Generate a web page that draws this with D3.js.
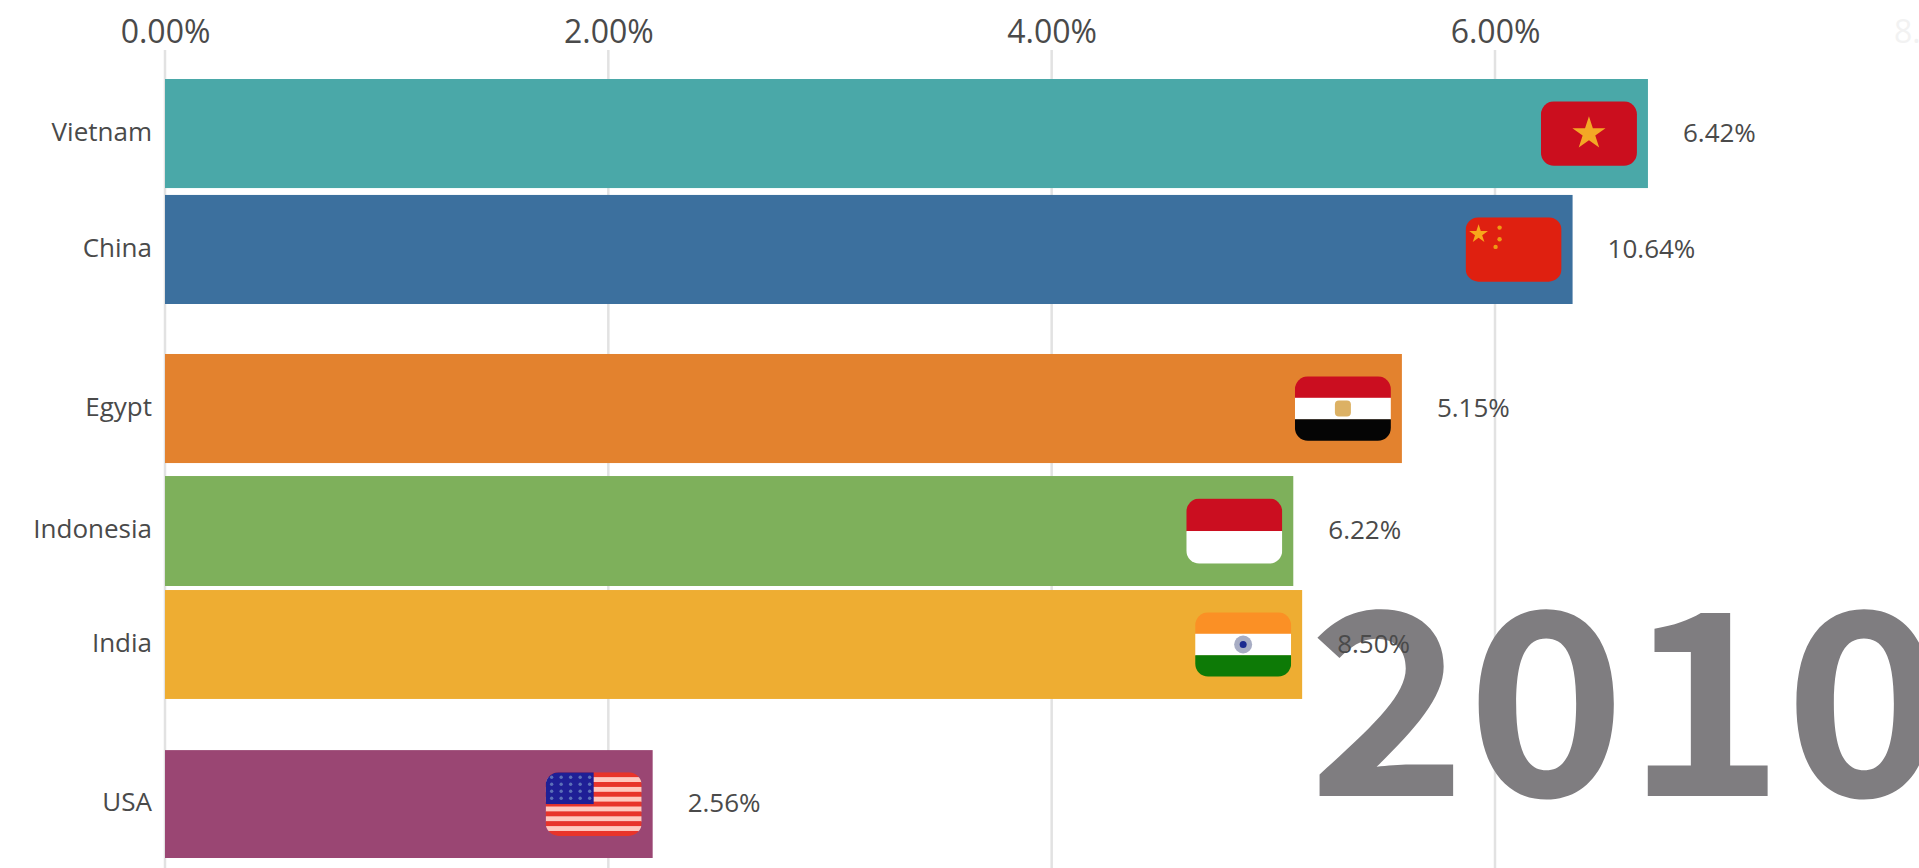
<!DOCTYPE html>
<html>
<head>
<meta charset="utf-8">
<script src="https://cdn.jsdelivr.net/npm/d3@7/dist/d3.min.js"></script>
<style>
html,body{margin:0;padding:0;background:#fff;overflow:hidden}
svg{display:block}
</style>
</head>
<body>
<svg id="chart" width="1919" height="868"></svg>
<script>
// Data (frame of a bar-chart race, so ranks are mid-transition)
const countries = ["Vietnam", "China", "Egypt", "Indonesia", "India", "USA"];
const barValues = [6.69, 6.35, 5.58, 5.09, 5.13, 2.20];
const valueLabels = ["6.42%", "10.64%", "5.15%", "6.22%", "8.50%", "2.56%"];
const rankStart = [0, 0.893, 2.118, 3.058, 3.936, 5.169];
const rankEnd = [0.84, 1.733, 2.958, 3.905, 4.775, 6];
const barColors = ["#4aa8a8", "#3c709e", "#e3822e", "#7eb05b", "#eead32", "#9a4673"];
const tickValues = [0, 2, 4, 6, 8];
const yearLabel = "2010";

const svg = d3.select("#chart");
const x = d3.scaleLinear().domain([0, 6]).range([165, 1495]);
const y = d3.scaleLinear().domain([0, 6]).range([79, 858]);
const FONT = "'Open Sans', sans-serif";

// Axis and grid
const axis = d3.axisTop(x).tickValues(tickValues)
  .tickFormat(d => d3.format(".2f")(d) + "%").tickSize(0).tickPadding(0);
const axisG = svg.append("g").attr("transform", "translate(0,43)").call(axis);
axisG.select(".domain").remove();
axisG.selectAll("text").attr("font-family", FONT).attr("font-size", 32)
  .attr("fill", "#4a4a4a").attr("dy", 0);
axisG.selectAll(".tick").filter(d => d === 8).select("text").attr("fill", "#f2f2f2");

svg.append("g").selectAll("line").data(tickValues.slice(0, 4)).join("line")
  .attr("x1", d => x(d)).attr("x2", d => x(d))
  .attr("y1", 50).attr("y2", 868)
  .attr("stroke", "#e2e2e2").attr("stroke-width", 2.5);

// Year watermark
svg.append("text").attr("transform", "translate(1308,796) scale(1.06,1)")
  .attr("font-family", "'Noto Sans CJK SC', sans-serif").attr("font-weight", 700)
  .attr("font-size", 254).attr("fill", "#7f7d80").text(yearLabel);

const rows = countries.map((name, i) => ({
  name, i, value: barValues[i], label: valueLabels[i],
  top: y(rankStart[i]), bottom: y(rankEnd[i]), color: barColors[i]
}));

// Bars
svg.append("g").selectAll("rect").data(rows).join("rect")
  .attr("x", x(0)).attr("y", d => d.top)
  .attr("width", d => x(d.value) - x(0))
  .attr("height", d => d.bottom - d.top)
  .attr("fill", d => d.color);

// Category labels
svg.append("g").selectAll("text").data(rows).join("text")
  .attr("x", x(0) - 13).attr("y", d => (d.top + d.bottom) / 2 - 2)
  .attr("dy", "0.35em").attr("text-anchor", "end")
  .attr("font-family", FONT).attr("font-size", 26).attr("fill", "#4a4a4a")
  .text(d => d.name);

// Value labels
svg.append("g").selectAll("text").data(rows).join("text")
  .attr("x", d => x(d.value) + 35).attr("y", d => (d.top + d.bottom) / 2 - 1)
  .attr("dy", "0.35em")
  .attr("font-family", FONT).attr("font-size", 26).attr("fill", "#4a4a4a")
  .text(d => d.label);

// Flags
const FW = 96;
const starPath = d3.symbol().type(d3.symbolStar);
function stripes(g, h, cols) {
  const s = d3.scaleBand().domain(d3.range(cols.length)).range([0, h]);
  g.selectAll("rect.s").data(cols).join("rect").attr("class", "s")
    .attr("x", 0).attr("y", (d, i) => s(i)).attr("width", FW).attr("height", s.bandwidth() + 0.5)
    .attr("fill", d => d);
}
const painters = {
  Vietnam(g, h) {
    stripes(g, h, ["#cb0e1e"]);
    g.append("path").attr("d", starPath.size(340))
      .attr("transform", `translate(${FW / 2},${h / 2})`).attr("fill", "#f3a825");
  },
  China(g, h) {
    stripes(g, h, ["#df2010"]);
    g.append("path").attr("d", starPath.size(110))
      .attr("transform", `translate(13,${h * 0.26})`).attr("fill", "#f7a81b");
    g.selectAll("circle").data([[34, .16], [34, .34], [30, .46]]).join("circle")
      .attr("cx", d => d[0]).attr("cy", d => d[1] * h).attr("r", 2.2).attr("fill", "#ef9a14");
  },
  Egypt(g, h) {
    stripes(g, h, ["#cb0e20", "#ffffff", "#050505"]);
    g.append("rect").attr("x", FW / 2 - 8).attr("y", h / 2 - 8).attr("width", 16).attr("height", 16)
      .attr("rx", 4).attr("fill", "#dcb164");
  },
  Indonesia(g, h) { stripes(g, h, ["#cb0e20", "#ffffff"]); },
  India(g, h) {
    stripes(g, h, ["#fb9025", "#ffffff", "#0d7a06"]);
    g.append("circle").attr("cx", FW / 2).attr("cy", h / 2).attr("r", 9).attr("fill", "#a8adc4");
    g.append("circle").attr("cx", FW / 2).attr("cy", h / 2).attr("r", 3.5).attr("fill", "#1c2a90");
  },
  USA(g, h) {
    stripes(g, h, d3.range(13).map(i => i % 2 ? "#ffc8be" : "#e8342a"));
    g.append("rect").attr("width", FW * 0.5).attr("height", h * 0.5).attr("fill", "#1f1f96");
    g.selectAll("circle").data(d3.cross(d3.range(5), d3.range(4))).join("circle")
      .attr("cx", d => 6 + d[0] * 9.5).attr("cy", d => 5 + d[1] * (h * 0.5 - 8) / 3.4)
      .attr("r", 1.7).attr("fill", "#5c70b8");
  }
};
const defs = svg.append("defs");
rows.forEach(d => {
  const h = (d.bottom - d.top) * 0.59;
  const id = "clip" + d.i;
  defs.append("clipPath").attr("id", id).append("rect")
    .attr("width", FW).attr("height", h).attr("rx", 13);
  const g = svg.append("g")
    .attr("transform", `translate(${x(d.value) - 11 - FW},${(d.top + d.bottom) / 2 - h / 2})`)
    .attr("clip-path", `url(#${id})`);
  painters[d.name](g, h);
});
</script>
</body>
</html>
